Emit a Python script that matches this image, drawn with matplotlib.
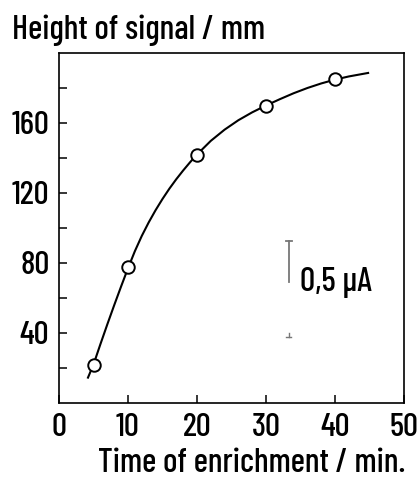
import matplotlib
matplotlib.use("Agg")
import matplotlib.pyplot as plt

FONT = ["Barlow Condensed", "DejaVu Sans"]
plt.rcParams["font.family"] = FONT
plt.rcParams["font.weight"] = "medium"

# data
time_points = [5, 10, 20, 30, 40]
signal_points = [22, 78, 142, 170, 185]

curve_time = [4.2, 5, 6, 7, 8, 9, 10, 11, 12, 13, 14, 15, 16, 17, 18, 19, 20,
              22, 24, 26, 28, 30, 32, 34, 36, 38, 40, 42, 44.8]
curve_signal = [14.5, 22, 33.6, 44.9, 55.9, 66.6, 77, 86.8, 95.5, 103.2, 110.2, 116.6, 122.5, 127.9, 132.9, 137.6, 142,
                149.8, 156.2, 161.6, 166.1, 170, 173.6, 177, 180, 182.6, 184.8, 186.6, 188.6]

x_ticks = [0, 10, 20, 30, 40, 50]
y_ticks = [40, 80, 120, 160]
y_minor = [20, 60, 100, 140, 180]

scale_x = 33.3
scale_bar = [69, 92.6]
scale_label = "0,5 µA"
zero_mark = 37.5

FS_TICK = 24
FS_TEXT = 24.3

fig = plt.figure(figsize=(4.18, 4.78), dpi=100)
ax = fig.add_axes([59 / 418, 1 - 403 / 478, (404 - 59) / 418, (403 - 53) / 478])

ax.plot(curve_time, curve_signal, color="black", lw=1.5, zorder=2)
ax.plot(time_points, signal_points, "o", ms=9, mfc="white", mec="black", mew=1.4, zorder=3)

ax.set_xlim(0, 50)
ax.set_ylim(0, 200)
ax.set_xticks(x_ticks)
ax.set_yticks(y_ticks)
ax.set_yticks(y_minor, minor=True)
ax.tick_params(axis="both", which="both", direction="in", length=6, width=1.1, labelsize=FS_TICK, pad=7)
ax.tick_params(axis="x", which="minor", length=0)
for s in ax.spines.values():
    s.set_linewidth(1.2)

# scale bar
ax.plot([scale_x, scale_x], scale_bar, color="#777777", lw=1.3)
ax.plot([scale_x - 0.4, scale_x + 0.4], [scale_bar[1], scale_bar[1]], color="#777777", lw=1.3)
ax.text(scale_x + 1.6, scale_bar[0], scale_label, fontsize=FS_TEXT, va="center", ha="left")
ax.plot([scale_x, scale_x], [zero_mark, zero_mark + 2.5], color="#777777", lw=1.0)
ax.plot([scale_x - 0.35, scale_x + 0.35], [zero_mark, zero_mark], color="#777777", lw=1.0)

fig.text(12 / 418, 1 - 39 / 478, "Height of signal / mm", fontsize=FS_TEXT, ha="left", va="baseline")
fig.text(405 / 418, 1 - 472 / 478, "Time of enrichment / min.", fontsize=FS_TEXT, ha="right", va="baseline")

fig.savefig("out.png")
